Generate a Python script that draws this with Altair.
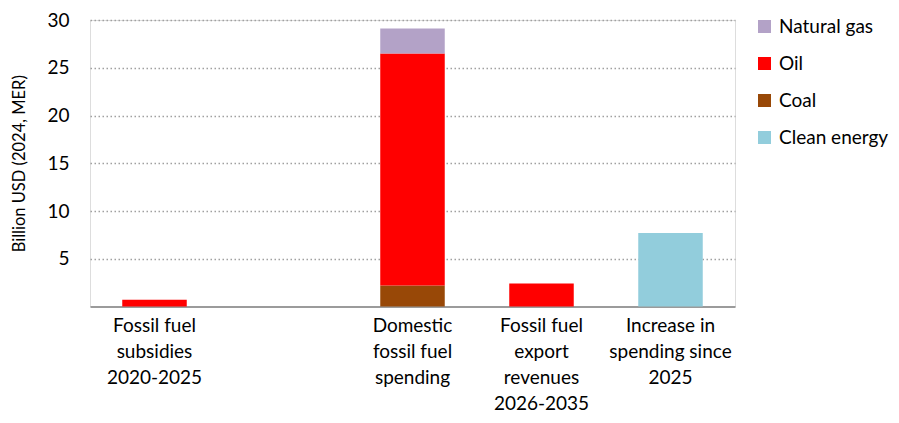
import altair as alt
import pandas as pd

categories = [
    "Fossil fuel|subsidies|2020-2025",
    " ",
    "Domestic|fossil fuel|spending",
    "Fossil fuel|export|revenues|2026-2035",
    "Increase in|spending since|2025",
]
fuels = ["Natural gas", "Oil", "Coal", "Clean energy"]
colors = ["#B3A2C7", "#FF0000", "#984807", "#92CDDC"]
stack_order = {"Coal": 0, "Oil": 1, "Natural gas": 2, "Clean energy": 3}

bar_category = [categories[0], categories[2], categories[2], categories[2], categories[3], categories[4]]
bar_fuel = ["Oil", "Coal", "Oil", "Natural gas", "Oil", "Clean energy"]
bar_value = [0.7, 2.2, 24.3, 2.6, 2.4, 7.7]

df = pd.DataFrame({"category": bar_category, "fuel": bar_fuel, "value": bar_value})
df["ord"] = df["fuel"].map(stack_order)

FONT = "Lato"

chart = alt.Chart(df).mark_bar().encode(
    x=alt.X("category:N", scale=alt.Scale(domain=categories, paddingInner=0.5, paddingOuter=0.25),
            axis=alt.Axis(title=None, labelAngle=0, labelExpr="split(datum.label, '|')",
                          labelFontSize=19, labelFont=FONT, labelColor="#000000",
                          labelLineHeight=26, labelPadding=10, labelBaseline="top",
                          ticks=False, domainColor="#7F7F7F", domainWidth=1.5, grid=False)),
    y=alt.Y("value:Q", stack="zero", scale=alt.Scale(domain=[0, 30], nice=False),
            axis=alt.Axis(title="Billion USD (2024, MER)", values=[5, 10, 15, 20, 25, 30],
                          titleFont=FONT, titleFontSize=16.5, titleFontWeight="normal", titleColor="#000000",
                          titlePadding=19,
                          labelFont=FONT, labelFontSize=19, labelColor="#000000", labelPadding=21,
                          ticks=False, domain=False,
                          gridColor="#A0A0A0", gridDash=[1.5, 2.5], gridWidth=1.5)),
    color=alt.Color("fuel:N", scale=alt.Scale(domain=fuels, range=colors),
                    legend=alt.Legend(title=None, orient="none", legendX=665, legendY=-3,
                                      symbolType="square", symbolSize=169, symbolStrokeWidth=0,
                                      labelFont=FONT, labelFontSize=19, labelColor="#000000",
                                      labelOffset=5, rowPadding=17, padding=0)),
    order=alt.Order("ord:Q"),
).properties(
    width=645, height=286.5,
    autosize=alt.AutoSizeParams(type="none"),
    padding={"left": 82, "top": 12, "right": 156, "bottom": 108.5},
).configure_view(stroke=None).configure(background="white")

chart.save("out.html", embed_options={"renderer": "svg", "actions": False})
